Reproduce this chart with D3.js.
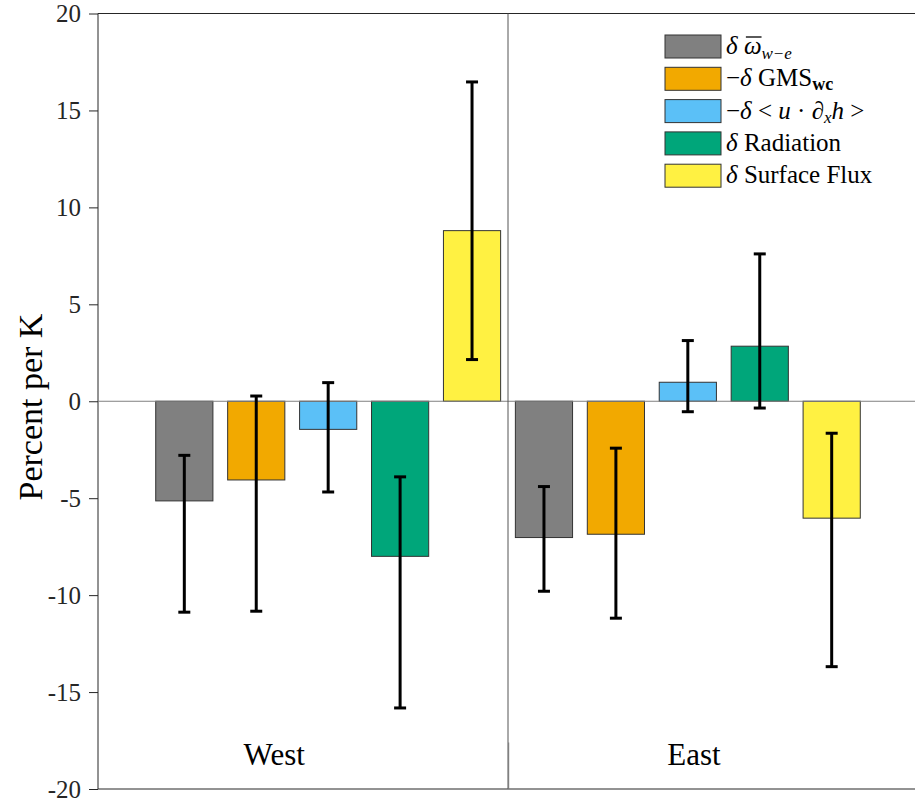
<html>
<head>
<meta charset="utf-8">
<script src="https://cdn.jsdelivr.net/npm/d3@7"></script>
<style>
body { margin: 0; background: #fff; }
svg text { font-family: "Liberation Serif", "Times New Roman", Times, "DejaVu Serif", serif; }
.y-axis path { display: none; }
.y-axis line { stroke: #262626; }
.y-axis text { fill: #262626; font-size: 25px; }
</style>
</head>
<body>
<svg id="chart" width="915" height="810"></svg>
<script>
// regions and series
var regions = ["West", "East"];
var series = ["omega", "gms", "adv", "rad", "sfc"];
var colors = ["#808080", "#f2a900", "#5bc0f7", "#00a67a", "#fff142"];
// bar heights (percent per K)
var westVals = [-5.14, -4.06, -1.45, -8.0, 8.8];
var eastVals = [-7.03, -6.86, 0.98, 2.84, -6.03];
// error bar ends
var westLo = [-10.88, -10.83, -4.68, -15.82, 2.15];
var westHi = [-2.79, 0.27, 0.96, -3.9, 16.47];
var eastLo = [-9.80, -11.19, -0.54, -0.35, -13.69];
var eastHi = [-4.40, -2.42, 3.13, 7.6, -1.65];
var yTicks = [-20, -15, -10, -5, 0, 5, 10, 15, 20];

var svg = d3.select("#chart"),
    margin = {top: 13.5, left: 98, bottom: 21, right: -3},
    width = +svg.attr("width") - margin.left - margin.right,
    height = +svg.attr("height") - margin.top - margin.bottom;

var x = d3.scaleLinear().domain([0.36, 2.64]).range([margin.left, margin.left + width]);
var y = d3.scaleLinear().domain([-20, 20]).range([margin.top + height, margin.top]);
var offs = d3.scalePoint().domain(series).range([-0.4, 0.4]);
var barW = 0.159;

var rows = [];
[westVals, eastVals].forEach(function(vals, g) {
    var lo = g == 0 ? westLo : eastLo;
    var hi = g == 0 ? westHi : eastHi;
    vals.forEach(function(v, i) {
        rows.push({g: g + 1, s: series[i], c: colors[i], v: v, lo: lo[i], hi: hi[i]});
    });
});

// frame
svg.append("line")
    .attr("x1", margin.left).attr("x2", margin.left + width)
    .attr("y1", y(20)).attr("y2", y(20))
    .attr("stroke", "#262626").attr("stroke-width", 1);
svg.append("line")
    .attr("x1", margin.left).attr("x2", margin.left + width)
    .attr("y1", y(-20)).attr("y2", y(-20))
    .attr("stroke", "#262626").attr("stroke-width", 1);

// y axis
svg.append("g")
    .attr("class", "y-axis")
    .attr("transform", `translate(${margin.left},0)`)
    .call(d3.axisLeft(y).tickValues(yTicks).tickSize(9).tickPadding(8).tickFormat(function(d) { return String(d); }));
svg.select(".y-axis").attr("font-family", null);
svg.append("line")
    .attr("x1", margin.left).attr("x2", margin.left)
    .attr("y1", y(20)).attr("y2", y(-20))
    .attr("stroke", "#262626");

// bars
svg.selectAll(".bar").data(rows).enter().append("rect")
    .attr("class", "bar")
    .attr("x", function(d) { return x(d.g + offs(d.s) - barW / 2); })
    .attr("width", function(d) { return x(barW) - x(0); })
    .attr("y", function(d) { return y(Math.max(0, d.v)); })
    .attr("height", function(d) { return Math.abs(y(d.v) - y(0)); })
    .attr("fill", function(d) { return d.c; })
    .attr("stroke", "#333")
    .attr("stroke-width", 1);

// zero line and divider
svg.append("line")
    .attr("x1", margin.left).attr("x2", margin.left + width)
    .attr("y1", y(0)).attr("y2", y(0))
    .attr("stroke", "#808080").attr("stroke-width", 1);
svg.append("line")
    .attr("x1", x(1.5)).attr("x2", x(1.5))
    .attr("y1", y(20)).attr("y2", y(-20))
    .attr("stroke", "#555").attr("stroke-width", 1);
svg.append("line")
    .attr("x1", x(1.5) + 0.7).attr("x2", x(1.5) + 0.7)
    .attr("y1", y(-17.6)).attr("y2", y(-20))
    .attr("stroke", "#777").attr("stroke-width", 1);

// error bars
var cap = 6;
var eb = svg.selectAll(".err").data(rows).enter().append("g").attr("class", "err");
eb.append("line")
    .attr("x1", function(d) { return x(d.g + offs(d.s)); })
    .attr("x2", function(d) { return x(d.g + offs(d.s)); })
    .attr("y1", function(d) { return y(d.lo); })
    .attr("y2", function(d) { return y(d.hi); })
    .attr("stroke", "#000").attr("stroke-width", 3);
["lo", "hi"].forEach(function(k) {
    eb.append("line")
        .attr("x1", function(d) { return x(d.g + offs(d.s)) - cap; })
        .attr("x2", function(d) { return x(d.g + offs(d.s)) + cap; })
        .attr("y1", function(d) { return y(d[k]); })
        .attr("y2", function(d) { return y(d[k]); })
        .attr("stroke", "#000").attr("stroke-width", 3);
});

// region labels
var labX = [0.85, 2.017];
regions.forEach(function(r, i) {
    svg.append("text")
        .attr("x", x(labX[i]))
        .attr("y", y(-18.75))
        .attr("text-anchor", "middle")
        .attr("font-size", 31)
        .attr("fill", "#000")
        .text(r);
});

// y label
svg.append("text")
    .attr("transform", `translate(42,${y(-0.3)}) rotate(-90)`)
    .attr("text-anchor", "middle")
    .attr("font-size", 34)
    .attr("fill", "#000")
    .text("Percent per K");

// legend
var lx = 665, ly = 35, rowH = 32.3, boxW = 56, boxH = 23;
var leg = svg.append("g");
series.forEach(function(s, i) {
    leg.append("rect")
        .attr("x", lx).attr("y", ly + i * rowH)
        .attr("width", boxW).attr("height", boxH)
        .attr("fill", colors[i])
        .attr("stroke", "#333").attr("stroke-width", 1);
    var t = leg.append("text")
        .attr("x", lx + boxW + 5)
        .attr("y", ly + i * rowH + 19)
        .attr("font-size", 25)
        .attr("fill", "#000");
    if (s == "omega") {
        t.append("tspan").attr("font-style", "italic").text("δ ");
        t.append("tspan").attr("font-style", "italic").text("ω");
        t.append("tspan").attr("font-style", "italic").attr("font-size", 17).attr("dy", 5).text("w−e");
        // overline on omega
        var b = t.node().getExtentOfChar(2);
        leg.append("line")
            .attr("x1", b.x + 2).attr("x2", b.x + b.width)
            .attr("y1", ly + i * rowH + 2).attr("y2", ly + i * rowH + 2)
            .attr("stroke", "#000").attr("stroke-width", 1.3);
    } else if (s == "gms") {
        t.append("tspan").text("−");
        t.append("tspan").attr("font-style", "italic").text("δ ");
        t.append("tspan").text("GMS");
        t.append("tspan").attr("font-weight", "bold").attr("font-size", 18).attr("dy", 4).text("wc");
    } else if (s == "adv") {
        t.append("tspan").text("−");
        t.append("tspan").attr("font-style", "italic").text("δ");
        t.append("tspan").text(" < ");
        t.append("tspan").attr("font-style", "italic").text("u");
        t.append("tspan").text(" · ");
        t.append("tspan").attr("font-style", "italic").text("∂");
        t.append("tspan").attr("font-style", "italic").attr("font-size", 17).attr("dy", 4).text("x");
        t.append("tspan").attr("font-style", "italic").attr("dy", -4).text("h");
        t.append("tspan").text(" >");
    } else if (s == "rad") {
        t.append("tspan").attr("font-style", "italic").text("δ ");
        t.append("tspan").text("Radiation");
    } else {
        t.append("tspan").attr("font-style", "italic").text("δ ");
        t.append("tspan").text("Surface Flux");
    }
});
</script>
</body>
</html>
